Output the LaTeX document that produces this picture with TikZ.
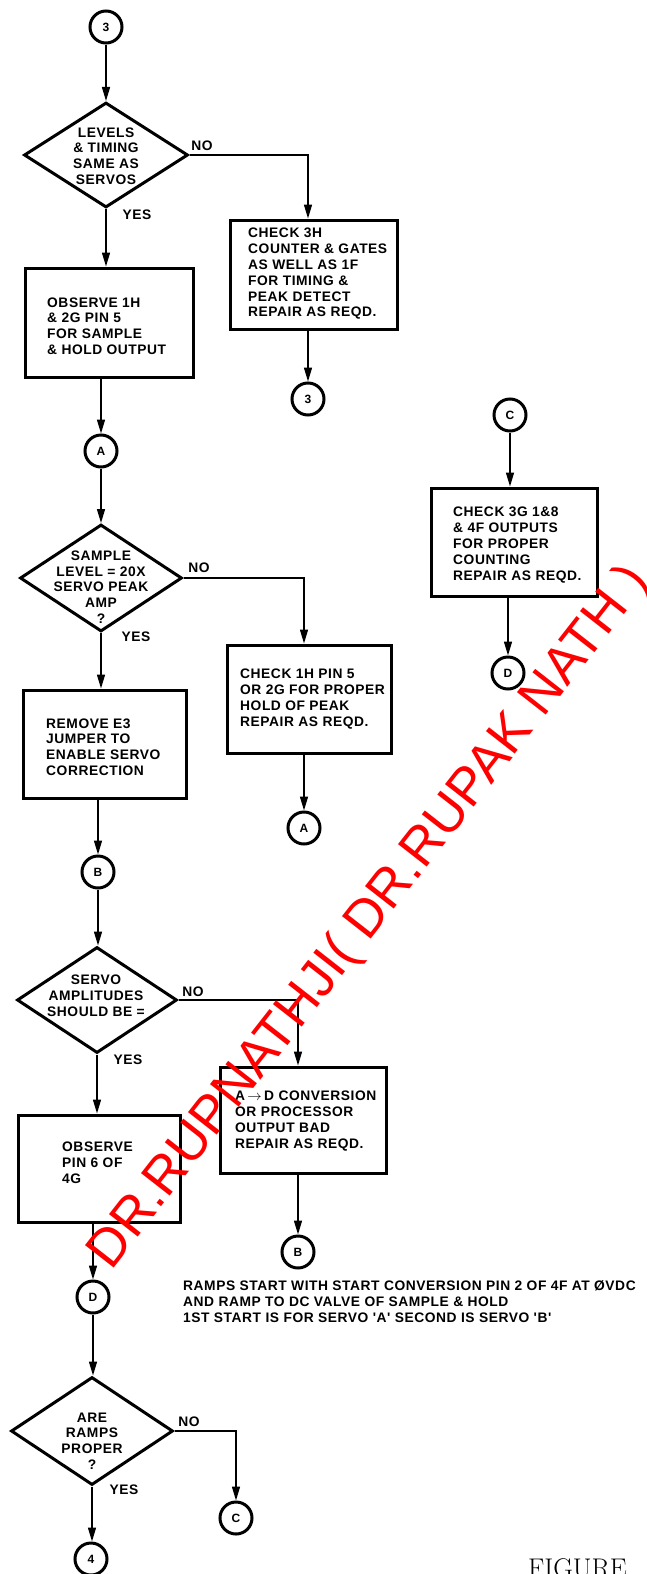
\documentclass[tikz,border=0pt]{standalone}
\usepackage{fontspec}
\newfontfamily\fcfont[LetterSpace=4]{Liberation Sans}
\newfontfamily\wmfont{Liberation Sans}
\usetikzlibrary{arrows.meta,shapes.geometric}
\begin{document}
\begin{tikzpicture}[x=1pt,y=-1pt,
  conn/.style={line width=1.5pt,-{Triangle[length=14pt,width=8pt]}},
  conc/.style={circle,draw,line width=3pt,minimum size=32pt,inner sep=0pt,
    font=\fcfont\bfseries\fontsize{12}{12}\selectfont},
  boxs/.style={rectangle,draw,line width=3pt,inner sep=0pt},
  dec/.style={diamond,draw,line width=3pt,inner sep=0pt},
  txt/.style={align=left,inner sep=0pt,anchor=west,
    font=\fcfont\bfseries\fontsize{13.8}{15.8}\selectfont},
  dtxt/.style={align=center,inner sep=0pt,
    font=\fcfont\bfseries\fontsize{13.8}{15.8}\selectfont},
  lbl/.style={inner sep=0pt,font=\fcfont\bfseries\fontsize{13.8}{13.8}\selectfont},
  note/.style={align=left,inner sep=0pt,anchor=west,
    font=\fcfont\bfseries\fontsize{13.8}{16}\selectfont},
  wmark/.style={text=red,inner sep=0pt,rotate=52,
    font=\wmfont\fontsize{53}{53}\selectfont}
]
\useasboundingbox (0,0) rectangle (646,1574);

% column 1, first part
\node[conc] (c3a) at (106,27) {3};
\node[dec,minimum width=164pt,minimum height=105pt] (d1) at (106,155) {};
\node[dtxt] (d1t) at (106,156) {LEVELS\\\& TIMING\\SAME AS\\SERVOS};
\node[lbl] (no1) at (202,146) {NO};
\node[lbl] (yes1) at (137,215) {YES};
\node[boxs,minimum width=168pt,minimum height=109pt] (b1) at (109,322.5) {};
\node[txt] (b1t) at (47,326) {OBSERVE 1H\\\& 2G PIN 5\\FOR SAMPLE\\\& HOLD OUTPUT};
\node[boxs,minimum width=167pt,minimum height=109pt] (b2) at (313.5,274.5) {};
\node[txt] (b2t) at (248,274) {CHECK 3H\\COUNTER \& GATES\\AS WELL AS 1F\\FOR TIMING \&\\PEAK DETECT\\REPAIR AS REQD.};
\node[conc] (c3b) at (308,399) {3};

% second part
\node[conc] (cA1) at (101,451) {A};
\node[dec,minimum width=162pt,minimum height=107pt] (d2) at (101,578) {};
\node[dtxt] (d2t) at (101,587) {SAMPLE\\LEVEL = 20X\\SERVO PEAK\\AMP\\?};
\node[lbl] (no2) at (199,568) {NO};
\node[lbl] (yes2) at (136,637) {YES};
\node[boxs,minimum width=163pt,minimum height=108pt] (b3) at (104.5,744) {};
\node[txt] (b3t) at (46,747) {REMOVE E3\\JUMPER TO\\ENABLE SERVO\\CORRECTION};
\node[boxs,minimum width=164pt,minimum height=108pt] (b4) at (309,699) {};
\node[txt] (b4t) at (240,699) {CHECK 1H PIN 5\\OR 2G FOR PROPER\\HOLD OF PEAK\\REPAIR AS REQD.};
\node[conc] (cA2) at (304,828) {A};

% right column
\node[conc] (cC1) at (510,415) {C};
\node[boxs,minimum width=166pt,minimum height=108pt] (b5) at (514,542) {};
\node[txt] (b5t) at (453,545) {CHECK 3G 1\&8\\\& 4F OUTPUTS\\FOR PROPER\\COUNTING\\REPAIR AS REQD.};
\node[conc] (cD1) at (508,673) {D};

% third part
\node[conc] (cB1) at (98,872) {B};
\node[dec,minimum width=160pt,minimum height=106pt] (d3) at (97,1000) {};
\node[dtxt] (d3t) at (96,996) {SERVO\\AMPLITUDES\\SHOULD BE =};
\node[lbl] (no3) at (193,992) {NO};
\node[lbl] (yes3) at (128,1060) {YES};
\node[boxs,minimum width=166pt,minimum height=106pt] (b6) at (303,1120) {};
\node[txt] (b6t) at (235,1121) {A\,$\rightarrow$\,D CONVERSION\\OR PROCESSOR\\OUTPUT BAD\\REPAIR AS REQD.};
\node[boxs,minimum width=162pt,minimum height=107pt] (b7) at (99,1168.5) {};
\node[txt] (b7t) at (62,1163) {OBSERVE\\PIN 6 OF\\4G};
\node[conc] (cB2) at (298,1252) {B};
\node[conc] (cD2) at (93,1297) {D};
\node[note] (notes) at (183,1302) {RAMPS START WITH START CONVERSION PIN 2 OF 4F AT ØVDC\\AND RAMP TO DC VALVE OF SAMPLE \& HOLD\\1ST START IS FOR SERVO 'A' SECOND IS SERVO 'B'};

% fourth part
\node[dec,minimum width=162pt,minimum height=108pt] (d4) at (92,1431) {};
\node[dtxt] (d4t) at (92,1441) {ARE\\RAMPS\\PROPER\\?};
\node[lbl] (no4) at (189,1422) {NO};
\node[lbl] (yes4) at (124,1490) {YES};
\node[conc] (cC2) at (236,1518) {C};
\node[conc] (c4) at (91,1559) {4};

\node[anchor=base west,inner sep=0pt,font=\fontsize{27}{27}\selectfont] (fig) at (528,1577.5) {FIGURE};

% connectors
\draw[conn] (c3a) -- (d1);
\draw[conn] (d1.east) -| (c3b |- b2.north);
\draw[conn] (c3b |- b2.south) -- (c3b);
\draw[conn] (d1.south) -- (d1.south |- b1.north);
\draw[conn] (cA1 |- b1.south) -- (cA1);
\draw[conn] (cA1) -- (cA1 |- d2.north);
\draw[conn] (d2.east) -| (cA2 |- b4.north);
\draw[conn] (cA2 |- b4.south) -- (cA2);
\draw[conn] (d2.south) -- (d2.south |- b3.north);
\draw[conn] (cB1 |- b3.south) -- (cB1);
\draw[conn] (cB1) -- (cB1 |- d3.north);
\draw[conn] (d3.east) -| (cB2 |- b6.north);
\draw[conn] (cB2 |- b6.south) -- (cB2);
\draw[conn] (d3.south) -- (d3.south |- b7.north);
\draw[conn] (cD2 |- b7.south) -- (cD2);
\draw[conn] (cD2) -- (cD2 |- d4.north);
\draw[conn] (d4.east) -| (cC2);
\draw[conn] (d4.south) -- (d4.south |- c4.north);
\draw[conn] (cC1) -- (cC1 |- b5.north);
\draw[conn] (cD1 |- b5.south) -- (cD1);

% watermark
\node[wmark] (wm) at (370,918) {DR.RUPNATHJI( DR.RUPAK NATH )};
\end{tikzpicture}
\end{document}
